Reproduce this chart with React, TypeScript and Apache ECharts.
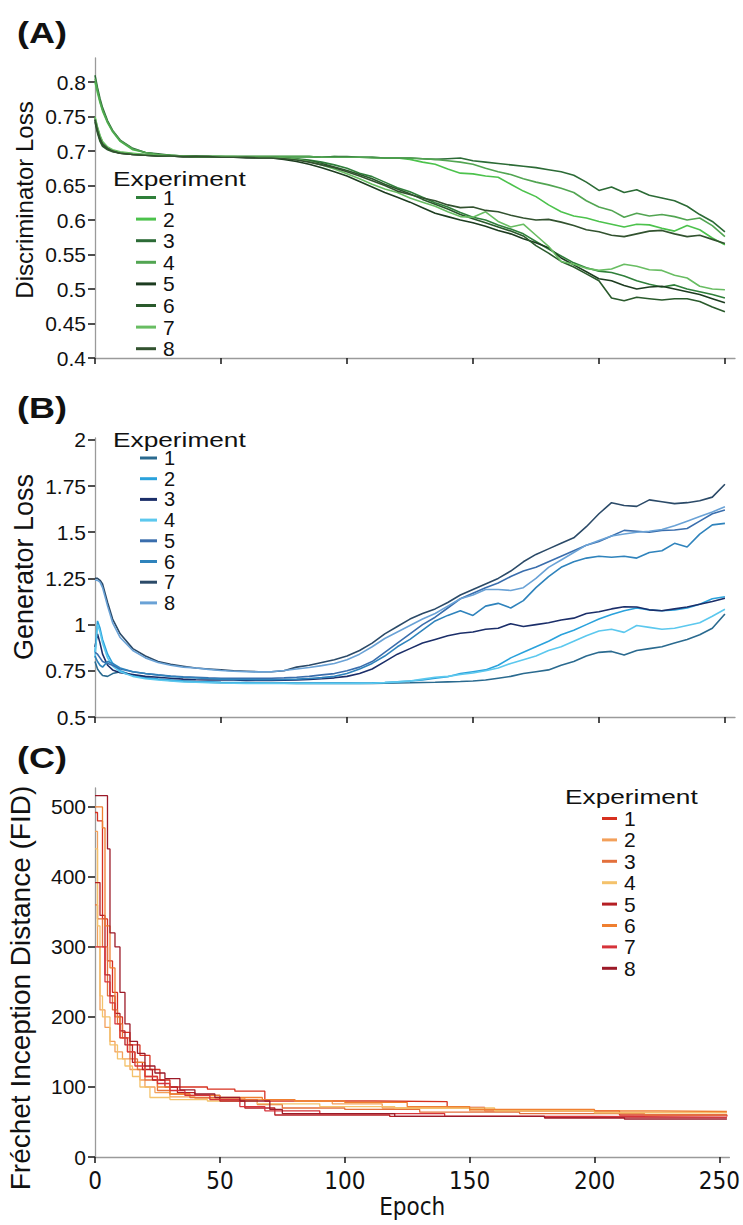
import React, { useEffect, useRef } from "react";
import * as echarts from "echarts";

// ---------- shared epochs (sampling points of the loss curves) ----------
const EPOCHS = [0, 1, 2, 3, 5, 7, 10, 15, 20, 25, 30, 35, 40, 45, 50, 55, 60, 65, 70, 75, 80, 85, 90, 95, 100, 105, 110, 115, 120, 125, 130, 135, 140, 145, 150, 155, 160, 165, 170, 175, 180, 185, 190, 195, 200, 205, 210, 215, 220, 225, 230, 235, 240, 245, 250];

const EXPERIMENTS = ["1", "2", "3", "4", "5", "6", "7", "8"];
const EPOCH_TICKS = [0, 50, 100, 150, 200, 250];
const DISC_TICKS = [0.4, 0.45, 0.5, 0.55, 0.6, 0.65, 0.7, 0.75, 0.8];
const GEN_TICKS = [0.5, 0.75, 1, 1.25, 1.5, 1.75, 2];
const FID_TICKS = [0, 100, 200, 300, 400, 500];

// ---------- (A) Discriminator loss ----------
const discLoss1 = [0.748, 0.733, 0.721, 0.713, 0.705, 0.701, 0.698, 0.696, 0.695, 0.694, 0.693, 0.693, 0.692, 0.692, 0.692, 0.691, 0.691, 0.691, 0.691, 0.690, 0.689, 0.687, 0.684, 0.680, 0.675, 0.668, 0.663, 0.655, 0.647, 0.641, 0.633, 0.625, 0.619, 0.611, 0.604, 0.600, 0.593, 0.587, 0.580, 0.569, 0.558, 0.548, 0.538, 0.531, 0.526, 0.524, 0.519, 0.512, 0.507, 0.503, 0.506, 0.500, 0.496, 0.492, 0.487];
const discLoss2 = [0.800, 0.784, 0.770, 0.758, 0.741, 0.728, 0.714, 0.702, 0.698, 0.695, 0.694, 0.693, 0.692, 0.692, 0.692, 0.692, 0.692, 0.692, 0.692, 0.692, 0.692, 0.692, 0.691, 0.692, 0.691, 0.691, 0.691, 0.690, 0.690, 0.688, 0.684, 0.681, 0.674, 0.668, 0.667, 0.664, 0.662, 0.652, 0.642, 0.634, 0.622, 0.612, 0.606, 0.603, 0.598, 0.594, 0.590, 0.594, 0.593, 0.588, 0.584, 0.592, 0.586, 0.574, 0.564];
const discLoss3 = [0.810, 0.792, 0.776, 0.763, 0.744, 0.730, 0.716, 0.704, 0.698, 0.696, 0.694, 0.693, 0.693, 0.692, 0.692, 0.692, 0.692, 0.692, 0.692, 0.692, 0.692, 0.692, 0.691, 0.692, 0.692, 0.691, 0.691, 0.690, 0.690, 0.690, 0.689, 0.688, 0.689, 0.690, 0.686, 0.684, 0.682, 0.680, 0.678, 0.676, 0.673, 0.670, 0.665, 0.655, 0.643, 0.648, 0.640, 0.644, 0.636, 0.632, 0.628, 0.620, 0.608, 0.598, 0.583];
const discLoss4 = [0.805, 0.788, 0.772, 0.760, 0.742, 0.729, 0.715, 0.703, 0.698, 0.695, 0.694, 0.693, 0.692, 0.692, 0.692, 0.692, 0.692, 0.692, 0.692, 0.692, 0.692, 0.692, 0.691, 0.691, 0.691, 0.691, 0.690, 0.690, 0.690, 0.690, 0.689, 0.688, 0.686, 0.684, 0.681, 0.675, 0.670, 0.666, 0.660, 0.655, 0.651, 0.646, 0.640, 0.628, 0.619, 0.614, 0.604, 0.610, 0.606, 0.608, 0.605, 0.600, 0.603, 0.592, 0.576];
const discLoss5 = [0.745, 0.728, 0.716, 0.709, 0.703, 0.700, 0.697, 0.695, 0.694, 0.693, 0.693, 0.692, 0.692, 0.691, 0.691, 0.691, 0.690, 0.690, 0.690, 0.688, 0.685, 0.681, 0.676, 0.670, 0.664, 0.656, 0.648, 0.640, 0.633, 0.626, 0.618, 0.610, 0.605, 0.600, 0.596, 0.591, 0.585, 0.580, 0.573, 0.567, 0.560, 0.545, 0.535, 0.525, 0.515, 0.512, 0.505, 0.500, 0.503, 0.504, 0.500, 0.496, 0.492, 0.486, 0.480];
const discLoss6 = [0.742, 0.726, 0.714, 0.707, 0.702, 0.699, 0.697, 0.695, 0.694, 0.693, 0.693, 0.692, 0.692, 0.692, 0.691, 0.691, 0.691, 0.691, 0.691, 0.690, 0.688, 0.686, 0.682, 0.677, 0.672, 0.666, 0.660, 0.652, 0.645, 0.638, 0.630, 0.623, 0.616, 0.608, 0.602, 0.596, 0.590, 0.584, 0.577, 0.563, 0.552, 0.540, 0.532, 0.522, 0.512, 0.487, 0.483, 0.488, 0.486, 0.484, 0.486, 0.486, 0.482, 0.474, 0.467];
const discLoss7 = [0.750, 0.735, 0.723, 0.714, 0.706, 0.702, 0.699, 0.697, 0.695, 0.694, 0.693, 0.693, 0.692, 0.692, 0.692, 0.692, 0.691, 0.691, 0.691, 0.690, 0.688, 0.685, 0.680, 0.674, 0.667, 0.660, 0.652, 0.645, 0.640, 0.632, 0.626, 0.620, 0.612, 0.605, 0.604, 0.612, 0.598, 0.590, 0.594, 0.578, 0.562, 0.540, 0.536, 0.530, 0.527, 0.529, 0.536, 0.533, 0.528, 0.527, 0.520, 0.516, 0.504, 0.500, 0.499];
const discLoss8 = [0.746, 0.730, 0.718, 0.710, 0.704, 0.700, 0.697, 0.695, 0.694, 0.693, 0.693, 0.692, 0.692, 0.692, 0.691, 0.691, 0.691, 0.690, 0.690, 0.689, 0.687, 0.684, 0.680, 0.676, 0.670, 0.664, 0.657, 0.650, 0.642, 0.637, 0.632, 0.628, 0.622, 0.618, 0.619, 0.614, 0.612, 0.607, 0.603, 0.600, 0.601, 0.597, 0.592, 0.586, 0.583, 0.578, 0.576, 0.580, 0.584, 0.585, 0.580, 0.576, 0.578, 0.572, 0.566];

// ---------- (B) Generator loss ----------
const genLoss1 = [0.80, 0.76, 0.74, 0.725, 0.72, 0.735, 0.745, 0.725, 0.712, 0.704, 0.698, 0.694, 0.69, 0.688, 0.686, 0.685, 0.684, 0.683, 0.683, 0.683, 0.682, 0.682, 0.682, 0.682, 0.682, 0.682, 0.682, 0.683, 0.684, 0.685, 0.687, 0.688, 0.69, 0.692, 0.695, 0.70, 0.71, 0.72, 0.735, 0.745, 0.755, 0.78, 0.80, 0.83, 0.85, 0.855, 0.835, 0.86, 0.87, 0.88, 0.90, 0.92, 0.945, 0.98, 1.057];
const genLoss2 = [0.85, 1.02, 0.98, 0.92, 0.84, 0.79, 0.75, 0.725, 0.712, 0.705, 0.70, 0.695, 0.692, 0.69, 0.688, 0.687, 0.686, 0.685, 0.684, 0.684, 0.684, 0.684, 0.684, 0.684, 0.684, 0.684, 0.685, 0.687, 0.69, 0.695, 0.70, 0.71, 0.718, 0.735, 0.745, 0.755, 0.78, 0.82, 0.85, 0.88, 0.91, 0.945, 0.97, 1.00, 1.03, 1.055, 1.075, 1.09, 1.08, 1.075, 1.08, 1.09, 1.11, 1.14, 1.151];
const genLoss3 = [0.88, 0.95, 0.90, 0.84, 0.78, 0.755, 0.74, 0.73, 0.72, 0.715, 0.71, 0.705, 0.702, 0.70, 0.70, 0.70, 0.698, 0.698, 0.698, 0.699, 0.70, 0.703, 0.707, 0.712, 0.72, 0.735, 0.76, 0.80, 0.84, 0.87, 0.90, 0.92, 0.94, 0.953, 0.96, 0.975, 0.98, 1.005, 0.99, 1.00, 1.01, 1.025, 1.035, 1.06, 1.07, 1.085, 1.097, 1.095, 1.08, 1.075, 1.085, 1.095, 1.11, 1.125, 1.143];
const genLoss4 = [0.82, 1.00, 0.96, 0.90, 0.82, 0.775, 0.745, 0.72, 0.707, 0.70, 0.695, 0.69, 0.688, 0.686, 0.684, 0.683, 0.682, 0.682, 0.682, 0.681, 0.681, 0.681, 0.681, 0.681, 0.681, 0.682, 0.683, 0.686, 0.69, 0.695, 0.705, 0.715, 0.72, 0.73, 0.738, 0.75, 0.765, 0.79, 0.81, 0.83, 0.86, 0.88, 0.91, 0.94, 0.965, 0.975, 0.958, 0.995, 0.985, 0.975, 0.98, 0.995, 1.01, 1.045, 1.083];
const genLoss5 = [0.85, 0.84, 0.82, 0.80, 0.79, 0.78, 0.76, 0.745, 0.735, 0.728, 0.722, 0.718, 0.715, 0.712, 0.71, 0.71, 0.71, 0.71, 0.71, 0.712, 0.715, 0.72, 0.728, 0.735, 0.75, 0.77, 0.80, 0.85, 0.90, 0.95, 1.00, 1.04, 1.09, 1.14, 1.17, 1.20, 1.225, 1.26, 1.29, 1.31, 1.34, 1.37, 1.40, 1.43, 1.45, 1.48, 1.51, 1.505, 1.50, 1.51, 1.512, 1.52, 1.56, 1.60, 1.62];
const genLoss6 = [0.83, 0.80, 0.78, 0.77, 0.80, 0.79, 0.765, 0.745, 0.735, 0.727, 0.72, 0.715, 0.712, 0.708, 0.705, 0.703, 0.703, 0.702, 0.702, 0.703, 0.705, 0.708, 0.713, 0.72, 0.735, 0.76, 0.79, 0.83, 0.88, 0.92, 0.97, 1.02, 1.05, 1.075, 1.05, 1.10, 1.115, 1.09, 1.13, 1.20, 1.26, 1.31, 1.34, 1.36, 1.37, 1.365, 1.37, 1.36, 1.39, 1.40, 1.44, 1.42, 1.49, 1.54, 1.548];
const genLoss7 = [1.25, 1.25, 1.24, 1.22, 1.12, 1.03, 0.95, 0.87, 0.83, 0.80, 0.785, 0.775, 0.765, 0.76, 0.755, 0.75, 0.748, 0.745, 0.745, 0.75, 0.77, 0.78, 0.795, 0.81, 0.83, 0.86, 0.90, 0.95, 0.99, 1.03, 1.06, 1.085, 1.12, 1.16, 1.19, 1.22, 1.25, 1.29, 1.34, 1.38, 1.41, 1.44, 1.47, 1.53, 1.60, 1.66, 1.645, 1.64, 1.675, 1.665, 1.655, 1.66, 1.67, 1.69, 1.76];
const genLoss8 = [1.24, 1.24, 1.23, 1.20, 1.10, 1.01, 0.93, 0.86, 0.82, 0.795, 0.78, 0.77, 0.765, 0.758, 0.752, 0.748, 0.745, 0.744, 0.745, 0.752, 0.76, 0.768, 0.778, 0.79, 0.81, 0.84, 0.88, 0.925, 0.96, 0.995, 1.03, 1.06, 1.10, 1.14, 1.16, 1.19, 1.19, 1.185, 1.20, 1.25, 1.31, 1.35, 1.39, 1.43, 1.455, 1.48, 1.49, 1.50, 1.505, 1.515, 1.535, 1.56, 1.585, 1.61, 1.638];

// ---------- (C) FID: [epoch, value] change points of step curves ----------
const fid1 = [[0, 492], [1, 480], [3, 340], [5, 280], [7, 235], [9, 200], [11, 178], [14, 160], [18, 145], [22, 125], [26, 110], [30, 100], [45, 97], [56, 94], [68, 80], [112, 79], [141, 71], [156, 66], [210, 60], [253, 58]];
const fid2 = [[0, 465], [1, 300], [2, 210], [4, 185], [6, 165], [8, 150], [11, 140], [14, 125], [18, 110], [20, 100], [24, 92], [30, 86], [40, 84], [60, 82], [80, 80], [95, 76], [115, 70], [150, 66], [200, 64], [253, 63]];
const fid3 = [[0, 360], [1, 340], [3, 300], [5, 230], [7, 210], [9, 190], [11, 170], [14, 140], [17, 125], [20, 110], [25, 95], [30, 90], [38, 85], [50, 82], [65, 75], [75, 70], [100, 68], [130, 64], [170, 62], [220, 60], [253, 60]];
const fid4 = [[0, 440], [1, 330], [2, 230], [3, 200], [6, 160], [9, 140], [12, 130], [15, 115], [18, 100], [22, 85], [30, 82], [45, 80], [65, 76], [90, 72], [120, 70], [160, 66], [200, 63], [253, 62]];
const fid5 = [[0, 392], [2, 345], [4, 260], [6, 230], [8, 205], [10, 180], [12, 160], [15, 135], [19, 125], [23, 110], [28, 100], [33, 92], [40, 88], [50, 80], [60, 70], [72, 60], [118, 58], [180, 56], [253, 55]];
const fid6 = [[0, 500], [3, 470], [4, 330], [6, 270], [8, 200], [10, 170], [13, 150], [16, 135], [20, 115], [25, 100], [30, 90], [38, 88], [50, 85], [67, 82], [80, 80], [100, 78], [125, 72], [150, 68], [200, 66], [226, 65], [253, 65]];
const fid7 = [[0, 300], [3, 300], [4, 250], [6, 220], [8, 190], [10, 170], [13, 150], [16, 130], [20, 115], [25, 105], [30, 95], [36, 88], [46, 82], [58, 72], [68, 66], [90, 62], [140, 58], [200, 57], [253, 57]];
const fid8 = [[0, 516], [5, 440], [6, 320], [8, 300], [10, 235], [12, 190], [14, 165], [17, 148], [20, 130], [24, 120], [28, 112], [34, 96], [40, 90], [48, 85], [58, 80], [70, 68], [75, 62], [120, 58], [180, 56], [212, 54], [253, 54]];

const GREENS = ["#2f7f3a", "#4cc24c", "#2c6b36", "#52a552", "#1d3c20", "#2a5a2c", "#68bd62", "#32522f"];
const BLUES = ["#2a6a8f", "#2aa2dc", "#1b2e69", "#5cc8ee", "#3a6ead", "#2f83bc", "#2b4a68", "#6aa2d6"];
const REDS = ["#d7301f", "#f3a05a", "#e3703c", "#f4c26b", "#b51f24", "#ef7f30", "#d6333a", "#9c1a28"];

const SANS = "'Liberation Sans', Arial, sans-serif";
const NARROW = "'Liberation Sans Narrow', 'DejaVu Sans Condensed', 'Liberation Sans', sans-serif";

export default function App() {
  const ref = useRef<HTMLDivElement>(null);

  useEffect(() => {
    if (!ref.current) return;
    const chart = echarts.init(ref.current, undefined, { renderer: "svg" });

    const disc = [discLoss1, discLoss2, discLoss3, discLoss4, discLoss5, discLoss6, discLoss7, discLoss8];
    const gen = [genLoss1, genLoss2, genLoss3, genLoss4, genLoss5, genLoss6, genLoss7, genLoss8];
    const fid = [fid1, fid2, fid3, fid4, fid5, fid6, fid7, fid8];

    const lineSeries = (prefix: string, sets: number[][], colors: string[], idx: number) =>
      sets.map((vals, i) => ({
        type: "line",
        name: prefix + EXPERIMENTS[i],
        xAxisIndex: idx,
        yAxisIndex: idx,
        data: EPOCHS.map((e, j) => [e, vals[j]]),
        showSymbol: false,
        symbol: "none",
        silent: true,
        lineStyle: { width: 1.6, color: colors[i] },
        itemStyle: { color: colors[i] },
        z: 2 + i,
      }));

    const stepSeries = fid.map((pts, i) => ({
      type: "line",
      name: "C" + EXPERIMENTS[i],
      xAxisIndex: 2,
      yAxisIndex: 2,
      step: "end",
      data: pts,
      showSymbol: false,
      symbol: "none",
      silent: true,
      lineStyle: { width: 1.3, color: REDS[i] },
      itemStyle: { color: REDS[i] },
      z: 2 + i,
    }));

    const xAxis = (idx: number) => ({
      type: "value",
      gridIndex: idx,
      min: 0,
      max: 254,
      axisLine: { show: true, onZero: false, lineStyle: { color: "#9a9a9a", width: 1.3 } },
      axisTick: { show: true, length: 6, customValues: EPOCH_TICKS, lineStyle: { color: "#222", width: 1.6 } },
      axisLabel: {
        show: idx === 2,
        customValues: EPOCH_TICKS,
        margin: 12,
        fontFamily: NARROW,
        fontSize: 24,
        color: "#111",
      },
      splitLine: { show: false },
      name: idx === 2 ? "Epoch" : "",
      nameLocation: "middle",
      nameGap: 38,
      nameTextStyle: { fontFamily: NARROW, fontSize: 24, color: "#111" },
    });

    const yAxis = (idx: number, min: number, max: number, ticks: number[]) => ({
      type: "value",
      gridIndex: idx,
      min,
      max,
      axisLine: { show: true, onZero: false, lineStyle: { color: "#9a9a9a", width: 1.3 } },
      axisTick: { show: true, length: 7, customValues: ticks, lineStyle: { color: "#222", width: 1.6 } },
      axisLabel: {
        customValues: ticks,
        margin: 9,
        fontFamily: SANS,
        fontSize: 21,
        color: "#111",
        formatter: (v: number) => String(+v.toFixed(2)),
      },
      splitLine: { show: false },
    });

    const legend = (prefix: string, left: number, top: number, itemWidth: number, fontSize: number, gap: number) => ({
      orient: "vertical",
      left,
      top,
      padding: 0,
      itemGap: gap,
      itemWidth,
      itemHeight: 3,
      icon: "rect",
      selectedMode: false,
      data: EXPERIMENTS.map((e) => prefix + e),
      formatter: (n: string) => n.slice(1),
      textStyle: { fontFamily: SANS, fontSize, color: "#111", padding: [0, 0, 0, 2] },
    });

    const label = (text: string, x: number, y: number) => ({
      type: "text",
      x,
      y,
      scaleX: 1.2,
      silent: true,
      style: { text, fontFamily: SANS, fontSize: 30, fontWeight: "bold", fill: "#111", align: "left", verticalAlign: "middle" },
    });
    const expTitle = (x: number, y: number) => ({
      type: "text",
      x,
      y,
      scaleX: 1.25,
      silent: true,
      style: { text: "Experiment", fontFamily: SANS, fontSize: 21, fill: "#111", align: "left", verticalAlign: "middle" },
    });
    const axisName = (text: string, x: number, y: number, fontSize: number) => ({
      type: "text",
      x,
      y,
      rotation: Math.PI / 2,
      silent: true,
      style: { text, fontFamily: SANS, fontSize, fill: "#111", align: "center", verticalAlign: "middle" },
    });

    chart.setOption({
      animation: false,
      backgroundColor: "#ffffff",
      grid: [
        { left: 95, right: 8, top: 58, height: 300 },
        { left: 95, right: 8, top: 438, height: 279 },
        { left: 95, right: 8, top: 788, height: 369 },
      ],
      xAxis: [xAxis(0), xAxis(1), xAxis(2)],
      yAxis: [
        yAxis(0, 0.4, 0.835, DISC_TICKS),
        yAxis(1, 0.5, 2.01, GEN_TICKS),
        yAxis(2, 0, 527, FID_TICKS),
      ],
      legend: [
        legend("A", 136, 187, 20, 21, 0.6),
        legend("B", 140, 448, 17, 20, 0.7),
        legend("C", 602, 808, 15, 21, 0.4),
      ],
      graphic: [
        label("(A)", 17, 33),
        label("(B)", 17, 408),
        label("(C)", 17, 758),
        expTitle(113, 178),
        expTitle(113, 439),
        expTitle(565, 796),
        axisName("Discriminator Loss", 24, 200, 24),
        axisName("Generator Loss", 24, 567, 27),
        axisName("Fréchet Inception Distance (FID)", 20, 988, 28),
      ],
      series: [
        ...lineSeries("A", disc, GREENS, 0),
        ...lineSeries("B", gen, BLUES, 1),
        ...stepSeries,
      ],
    });

    return () => chart.dispose();
  }, []);

  return <div ref={ref} style={{ position: "absolute", left: 0, top: 0, width: 743, height: 1225, background: "#fff" }} />;
}
